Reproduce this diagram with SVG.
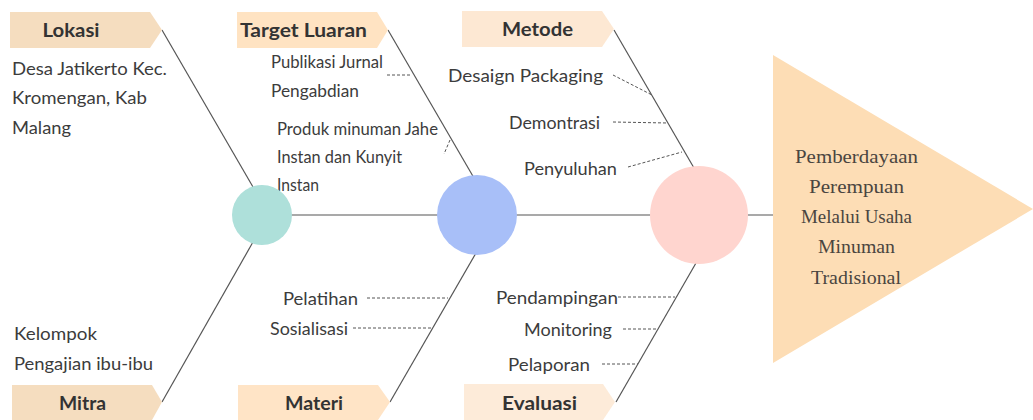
<svg xmlns="http://www.w3.org/2000/svg" width="1033" height="420" viewBox="0 0 1033 420">
<style>
.hdr{font-family:Lato,"Open Sans",sans-serif;font-weight:bold;font-size:19.5px;fill:#333;text-anchor:middle}
.t{font-family:Lato,"Open Sans",sans-serif;font-size:18px;fill:#3c3c3c}
.e{text-anchor:end}
.bone{stroke:#555;stroke-width:1.2;fill:none}
.dash{stroke:#555;stroke-width:1;stroke-dasharray:3 2;fill:none}
.res{font-family:"Liberation Serif",serif;font-size:18.5px;fill:#4a4540;text-anchor:middle}
</style>
<rect width="1033" height="420" fill="#fff"/>
<g id="connectors">
<line class="bone" x1="262" y1="215" x2="773" y2="215"/>
<line class="bone" x1="162" y1="30" x2="253" y2="187"/>
<line class="bone" x1="388" y1="30" x2="474" y2="178"/>
<line class="bone" x1="614" y1="30" x2="694" y2="168"/>
<line class="bone" x1="162" y1="402" x2="253" y2="242"/>
<line class="bone" x1="390" y1="402" x2="476" y2="253"/>
<line class="bone" x1="616" y1="402" x2="696" y2="263"/>
<line class="dash" x1="387" y1="75" x2="412" y2="75"/>
<line class="dash" x1="450" y1="140" x2="444" y2="154"/>
<line class="dash" x1="613" y1="75" x2="652" y2="95"/>
<line class="dash" x1="613" y1="122" x2="668" y2="123"/>
<line class="dash" x1="628" y1="167" x2="682" y2="152"/>
<line class="dash" x1="367" y1="298" x2="448" y2="298"/>
<line class="dash" x1="353" y1="328" x2="431" y2="328"/>
<line class="dash" x1="618" y1="297" x2="675" y2="297"/>
<line class="dash" x1="623" y1="329" x2="657" y2="329"/>
<line class="dash" x1="602" y1="364" x2="638" y2="364"/>
</g>
<g id="lokasi">
<polygon points="10,12 150,12 162,30 150,48 10,48" fill="#F5DDBF"/>
<text class="hdr" x="71" y="37" textLength="57" lengthAdjust="spacingAndGlyphs">Lokasi</text>
<text class="t" x="12" y="75" textLength="155" lengthAdjust="spacingAndGlyphs">Desa Jatikerto Kec.</text>
<text class="t" x="12" y="104" textLength="135" lengthAdjust="spacingAndGlyphs">Kromengan, Kab</text>
<text class="t" x="12" y="134" textLength="59" lengthAdjust="spacingAndGlyphs">Malang</text>
</g>
<g id="target-luaran">
<polygon points="237,12 377,12 388,30 377,48 237,48" fill="#FFE3C2"/>
<text class="hdr" x="303.5" y="37" textLength="127" lengthAdjust="spacingAndGlyphs">Target Luaran</text>
<text class="t" x="271" y="68" textLength="112" lengthAdjust="spacingAndGlyphs">Publikasi Jurnal</text>
<text class="t" x="271" y="97" textLength="88" lengthAdjust="spacingAndGlyphs">Pengabdian</text>
<text class="t" x="277" y="135" textLength="161" lengthAdjust="spacingAndGlyphs">Produk minuman Jahe</text>
<text class="t" x="277" y="163" textLength="125" lengthAdjust="spacingAndGlyphs">Instan dan Kunyit</text>
<text class="t" x="277" y="191" textLength="42" lengthAdjust="spacingAndGlyphs">Instan</text>
</g>
<g id="metode">
<polygon points="462,11 602,11 614,29 602,47 462,47" fill="#FDE8D3"/>
<text class="hdr" x="537.5" y="36" textLength="71" lengthAdjust="spacingAndGlyphs">Metode</text>
<text class="t" x="448" y="82" textLength="155" lengthAdjust="spacingAndGlyphs">Desaign Packaging</text>
<text class="t" x="509" y="129" textLength="91" lengthAdjust="spacingAndGlyphs">Demontrasi</text>
<text class="t" x="524" y="175" textLength="93" lengthAdjust="spacingAndGlyphs">Penyuluhan</text>
</g>
<g id="mitra">
<polygon points="12,385 152,385 162,402 152,420 12,420" fill="#F5DDBF"/>
<text class="hdr" x="82.5" y="410" textLength="47" lengthAdjust="spacingAndGlyphs">Mitra</text>
<text class="t" x="14" y="340" textLength="83" lengthAdjust="spacingAndGlyphs">Kelompok</text>
<text class="t" x="14" y="370" textLength="139" lengthAdjust="spacingAndGlyphs">Pengajian ibu-ibu</text>
</g>
<g id="materi">
<polygon points="238,385 378,385 390,402 378,420 238,420" fill="#FFE4C6"/>
<text class="hdr" x="314" y="410" textLength="58" lengthAdjust="spacingAndGlyphs">Materi</text>
<text class="t" x="283" y="305" textLength="75" lengthAdjust="spacingAndGlyphs">Pelatihan</text>
<text class="t" x="270" y="335" textLength="78" lengthAdjust="spacingAndGlyphs">Sosialisasi</text>
</g>
<g id="evaluasi">
<polygon points="464,384 603,384 615,402 603,420 464,420" fill="#FDEBD9"/>
<text class="hdr" x="539.5" y="410" textLength="75" lengthAdjust="spacingAndGlyphs">Evaluasi</text>
<text class="t" x="496" y="304" textLength="122" lengthAdjust="spacingAndGlyphs">Pendampingan</text>
<text class="t" x="524" y="336" textLength="88" lengthAdjust="spacingAndGlyphs">Monitoring</text>
<text class="t" x="508" y="371" textLength="82" lengthAdjust="spacingAndGlyphs">Pelaporan</text>
</g>
<g id="circle-teal"><circle cx="262" cy="215" r="30" fill="#AEE0DA"/></g>
<g id="circle-blue"><circle cx="477" cy="215" r="40" fill="#A8BFF8"/></g>
<g id="circle-pink"><circle cx="699" cy="215" r="49" fill="#FFD5CF"/></g>
<g id="result">
<polygon points="773,55 1033,209 773,363" fill="#FDDDB5"/>
<text class="res" x="856.5" y="163" textLength="123" lengthAdjust="spacingAndGlyphs">Pemberdayaan</text>
<text class="res" x="856.5" y="193" textLength="95" lengthAdjust="spacingAndGlyphs">Perempuan</text>
<text class="res" x="856.5" y="223" textLength="111" lengthAdjust="spacingAndGlyphs">Melalui Usaha</text>
<text class="res" x="856.5" y="253" textLength="77" lengthAdjust="spacingAndGlyphs">Minuman</text>
<text class="res" x="856" y="284" textLength="90" lengthAdjust="spacingAndGlyphs">Tradisional</text>
</g>
</svg>
